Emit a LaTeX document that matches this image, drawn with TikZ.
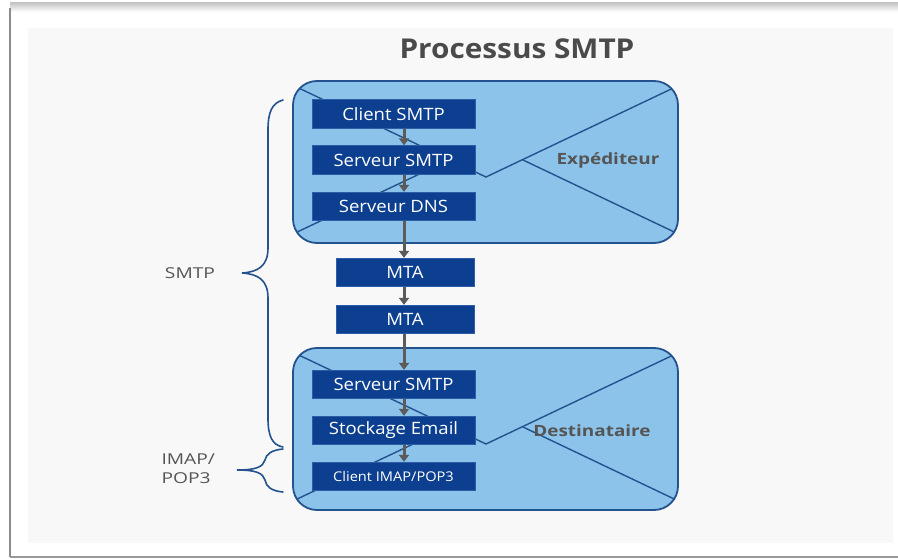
\documentclass[tikz,border=0pt]{standalone}
\usepackage{fontspec}
\setmainfont{Open Sans}[FakeStretch=1.09]
\newfontfamily\labelfont{Open Sans}[FakeStretch=1.28]
\newfontfamily\tagfont{Open Sans}[FakeStretch=1.22]
\usetikzlibrary{arrows.meta}
\definecolor{panel}{HTML}{F8F8F8}
\definecolor{envfill}{HTML}{8CC3EA}
\definecolor{envline}{HTML}{24528F}
\definecolor{boxfill}{HTML}{0C3F8F}
\definecolor{boxedge}{HTML}{2C5CA6}
\definecolor{arrowgray}{HTML}{5B5B5B}
\definecolor{textgray}{HTML}{555555}
\definecolor{titlegray}{HTML}{4A4A4A}
\tikzset{
  stepbox/.style={draw=boxedge, line width=0.8pt, fill=boxfill, text=white,
    minimum width=163pt, minimum height=28.5pt, inner sep=0pt,
    font=\fontsize{17}{19}\selectfont},
  mtabox/.style={stepbox, minimum width=138pt},
  flow/.style={draw=arrowgray, line width=3pt,
    -{Triangle[length=7pt,width=10pt]}},
  envbody/.style={draw=envline, line width=1.8pt, fill=envfill,
    rounded corners=24pt},
  envflap/.style={draw=envline, line width=1.4pt},
  brace/.style={draw=envline, line width=1.6pt, line cap=round},
  sidelabel/.style={text=textgray, font=\labelfont\fontsize{15}{19}\selectfont},
  tag/.style={text=textgray, font=\tagfont\bfseries\fontsize{15.5}{18}\selectfont}
}
% envelope drawn from its top edge y
\newcommand{\envelope}[1]{%
  \begin{scope}[yshift=-#1pt]
    \path[envbody] (293,0) rectangle (678,162);
    \begin{scope}
      \clip[rounded corners=24pt] (293,0) rectangle (678,162);
      \draw[envflap] (293,4.3) -- (486,96) -- (678,4.8);
      \draw[envflap] (293,153) -- (449,79);
      \draw[envflap] (523,79) -- (678,152.8);
    \end{scope}
  \end{scope}}
\begin{document}
\begin{tikzpicture}[x=1pt, y=-1pt]
  % page and frame
  \fill[white] (0,0) rectangle (898,559);
  \useasboundingbox (0,0) rectangle (898,559);
  \fill[top color=black!22, bottom color=white] (10,3) rectangle (898,12);
  \draw[black!45, line width=2pt] (10,8) -- (10,557);
  \draw[black!40, line width=1.5pt] (10,557) -- (898,557);
  \fill[panel] (28,28) rectangle (893,543);

  % title
  \node[text=titlegray, font=\bfseries\fontsize{27.3}{31}\selectfont]
    (title) at (517,49) {Processus SMTP};

  % envelopes
  \envelope{81}
  \envelope{348}
  \node[tag] (exp) at (608,160) {Expéditeur};
  \node[tag] (dest) at (592,431) {Destinataire};

  % steps
  \node[stepbox] (c1) at (393.5,114) {Client SMTP};
  \node[stepbox] (s1) at (393.5,160) {Serveur SMTP};
  \node[stepbox] (d1) at (393.5,206.5) {Serveur DNS};
  \node[mtabox] (m1) at (405,272.5) {MTA};
  \node[mtabox] (m2) at (405,319.5) {MTA};
  \node[stepbox] (s2) at (393.5,384.5) {Serveur SMTP};
  \node[stepbox] (st) at (393.5,430.5) {Stockage Email};
  \node[stepbox, font=\fontsize{13.4}{15}\selectfont] (ci) at (393.5,476.5) {Client IMAP/POP3};

  % flow arrows on a common vertical
  \coordinate (ax) at (404,0);
  \draw[flow] (c1.south -| ax) -- (s1.north -| ax);
  \draw[flow] (s1.south -| ax) -- (d1.north -| ax);
  \draw[flow] (d1.south -| ax) -- (m1.north -| ax);
  \draw[flow] (m1.south -| ax) -- (m2.north -| ax);
  \draw[flow] (m2.south -| ax) -- (s2.north -| ax);
  \draw[flow] (s2.south -| ax) -- (st.north -| ax);
  \draw[flow] (st.south -| ax) -- (ci.north -| ax);

  % braces
  \coordinate (b1top) at (283,100);
  \coordinate (b1tip) at (242,273);
  \coordinate (b1bot) at (283,447);
  \draw[brace] (b1top) .. controls (272,103) and (268,112) .. (268,130)
    -- (268,248) .. controls (268,266) and (258,272) .. (b1tip)
    .. controls (258,274) and (268,280) .. (268,298)
    -- (268,418) .. controls (268,436) and (272,445) .. (b1bot);
  \coordinate (b2top) at (283,449);
  \coordinate (b2tip) at (237,470);
  \coordinate (b2bot) at (283,492);
  \draw[brace] (b2top) .. controls (272,450) and (266,454) .. (265,460)
    .. controls (263,467) and (256,470) .. (b2tip)
    .. controls (256,470) and (263,473) .. (265,480)
    .. controls (266,487) and (272,491) .. (b2bot);

  % side labels
  \node[sidelabel] (lsmtp) at (190,273) {SMTP};
  \node[sidelabel, align=left, anchor=west] (limap) at (158,469) {IMAP/\\POP3};
\end{tikzpicture}
\end{document}
